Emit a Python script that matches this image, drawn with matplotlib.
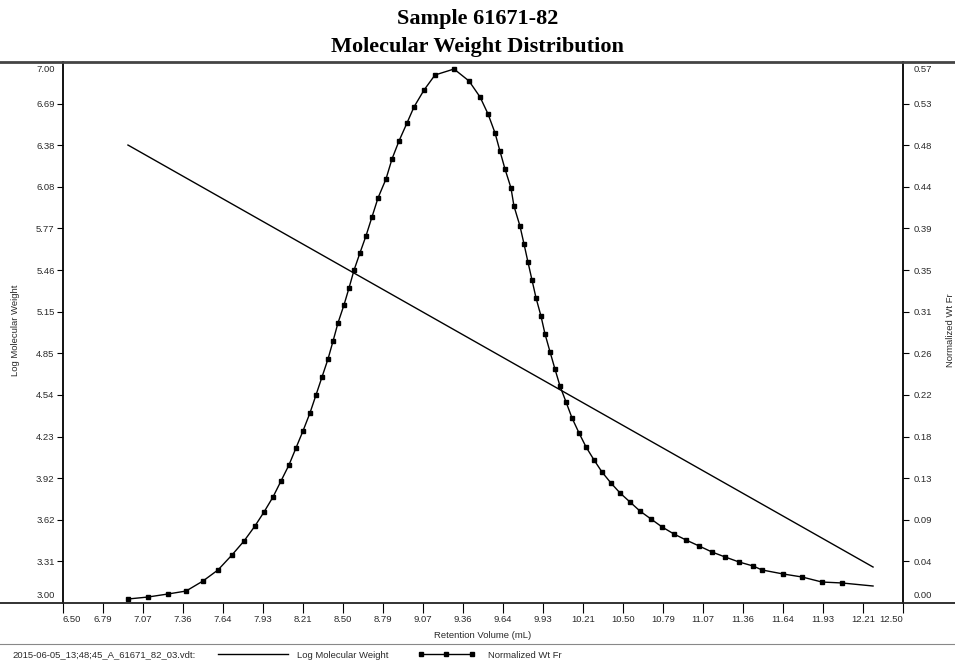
import matplotlib.pyplot as plt
import numpy as np
from matplotlib.lines import Line2D
from matplotlib.transforms import ScaledTranslation

plt.rcParams["font.family"] = ["Liberation Sans", "DejaVu Sans"]

# Log molecular weight calibration line
vol_mw = [6.964, 12.286]
log_mw = [6.386, 3.266]

# Normalized weight fraction curve
vol_wf = [6.964, 7.107, 7.250, 7.379, 7.500, 7.607, 7.707, 7.793, 7.871, 7.936,
          8.000, 8.057, 8.114, 8.164, 8.214, 8.264, 8.307, 8.350, 8.393, 8.429,
          8.464, 8.507, 8.543, 8.579, 8.621, 8.664, 8.707, 8.750, 8.807, 8.850,
          8.900, 8.957, 9.007, 9.079, 9.157, 9.293, 9.400, 9.479, 9.536, 9.586,
          9.621, 9.657, 9.700, 9.721, 9.764, 9.793, 9.821, 9.850, 9.879, 9.914,
          9.943, 9.979, 10.014, 10.050, 10.093, 10.136, 10.186, 10.236, 10.293, 10.350,
          10.414, 10.479, 10.550, 10.621, 10.700, 10.779, 10.864, 10.950, 11.043, 11.136,
          11.229, 11.329, 11.429, 11.493, 11.643, 11.779, 11.921, 12.064, 12.286]
wt_fr = [0.0042, 0.0063, 0.0095, 0.0126, 0.0232, 0.0348, 0.0506, 0.0653, 0.0811, 0.0959,
         0.1117, 0.1285, 0.1454, 0.1633, 0.1812, 0.2002, 0.2191, 0.2381, 0.2571, 0.2760,
         0.2950, 0.3140, 0.3319, 0.3508, 0.3688, 0.3867, 0.4067, 0.4267, 0.4467, 0.4678,
         0.4868, 0.5057, 0.5226, 0.5405, 0.5563, 0.5626, 0.5500, 0.5331, 0.5152, 0.4952,
         0.4762, 0.4573, 0.4372, 0.4183, 0.3972, 0.3782, 0.3593, 0.3403, 0.3213, 0.3024,
         0.2834, 0.2645, 0.2465, 0.2286, 0.2118, 0.1949, 0.1791, 0.1644, 0.1507, 0.1380,
         0.1264, 0.1159, 0.1064, 0.0969, 0.0885, 0.0801, 0.0727, 0.0664, 0.0601, 0.0537,
         0.0485, 0.0432, 0.0390, 0.0348, 0.0306, 0.0274, 0.0221, 0.0211, 0.0179]

x_labels = ["6.50", "6.79", "7.07", "7.36", "7.64", "7.93", "8.21", "8.50", "8.79", "9.07",
            "9.36", "9.64", "9.93", "10.21", "10.50", "10.79", "11.07", "11.36", "11.64",
            "11.93", "12.21", "12.50"]
left_labels = ["3.00", "3.31", "3.62", "3.92", "4.23", "4.54", "4.85", "5.15", "5.46",
               "5.77", "6.08", "6.38", "6.69", "7.00"]
right_labels = ["0.00", "0.04", "0.09", "0.13", "0.18", "0.22", "0.26", "0.31", "0.35",
                "0.39", "0.44", "0.48", "0.53", "0.57"]

FS = 6.8
TXT = "#2a2a2a"

fig = plt.figure(figsize=(9.55, 6.62), dpi=100)
ax = fig.add_axes([63 / 955, 59 / 662, 840 / 955, 541 / 662])
ax2 = ax.twinx()

mw_line, = ax.plot(vol_mw, log_mw, color="black", lw=1.0)
wf_line, = ax2.plot(vol_wf, wt_fr, color="black", lw=1.0, marker="s", ms=3.2,
                    markevery=slice(0, len(vol_wf) - 1))

ax.set_xlim(6.5, 12.5)
ax.set_ylim(3.0, 7.0)
ax2.set_ylim(0.0, 0.57)

ax.set_xticks(np.linspace(6.5, 12.5, len(x_labels)), x_labels)
ax.set_yticks(np.linspace(3.0, 7.0, len(left_labels)), left_labels)
ax2.set_yticks(np.linspace(0.0, 0.57, len(right_labels)), right_labels)

for a in (ax, ax2):
    for s in ("top", "bottom"):
        a.spines[s].set_visible(False)
ax.spines["right"].set_visible(False)
ax2.spines["left"].set_visible(False)
ax.spines["left"].set_linewidth(1.3)
ax2.spines["right"].set_linewidth(1.3)

ax.tick_params(axis="x", length=7.5, width=0.8, pad=1.5, labelsize=FS, labelcolor=TXT)
ax.tick_params(axis="y", length=4.5, width=0.8, pad=1.5, labelsize=FS, labelcolor=TXT)
ax2.tick_params(axis="y", length=4.5, width=0.8, pad=3, labelsize=FS, labelcolor=TXT)

# end labels sit inside the frame, with no tick mark
xl = ax.get_xticklabels()
xl[0].set_ha("left")
xl[-1].set_ha("right")
down = ScaledTranslation(0, -3 / 100, fig.dpi_scale_trans)
up = ScaledTranslation(0, 3 / 100, fig.dpi_scale_trans)
for labels in (ax.get_yticklabels(), ax2.get_yticklabels()):
    labels[0].set_va("bottom")
    labels[0].set_transform(labels[0].get_transform() + up)
    labels[-1].set_va("top")
    labels[-1].set_transform(labels[-1].get_transform() + down)
for t in (ax.yaxis.get_major_ticks()[0], ax.yaxis.get_major_ticks()[-1]):
    t.tick1line.set_visible(False)
for t in (ax2.yaxis.get_major_ticks()[0], ax2.yaxis.get_major_ticks()[-1]):
    t.tick2line.set_visible(False)

# frame lines running across the page
fig.add_artist(Line2D([0, 1], [1 - 62 / 662] * 2, color="#444", lw=2.0))
fig.add_artist(Line2D([0, 1], [59 / 662] * 2, color="#222", lw=1.3))
fig.add_artist(Line2D([0, 1], [1 - 644 / 662] * 2, color="#888", lw=0.8))

fig.text(0.5, 1 - 19 / 662, "Sample 61671-82", ha="center", va="center",
         family="Liberation Serif", weight="bold", fontsize=16)
fig.text(0.5, 1 - 47 / 662, "Molecular Weight Distribution", ha="center", va="center",
         family="Liberation Serif", weight="bold", fontsize=16)

fig.text(483 / 955, 1 - 636 / 662, "Retention Volume (mL)", ha="center", va="center",
         fontsize=FS, color=TXT)
fig.text(15 / 955, 1 - 330 / 662, "Log Molecular Weight", ha="center", va="center",
         rotation=90, fontsize=FS, color=TXT)
fig.text(950 / 955, 1 - 330 / 662, "Normalized Wt Fr", ha="center", va="center",
         rotation=90, fontsize=FS, color=TXT)

fig.text(12 / 955, 1 - 655 / 662, "2015-06-05_13;48;45_A_61671_82_03.vdt:", ha="left",
         va="center", fontsize=FS, color=TXT)
fig.legend([mw_line], ["Log Molecular Weight"], loc="center left",
           bbox_to_anchor=(218 / 955, 1 - 655 / 662), frameon=False, fontsize=FS,
           handlelength=7.4, handletextpad=1.0, borderaxespad=0, borderpad=0,
           labelcolor=TXT)
fig.legend([wf_line], ["Normalized Wt Fr"], loc="center left",
           bbox_to_anchor=(418 / 955, 1 - 655 / 662), frameon=False, fontsize=FS,
           handlelength=6.0, handletextpad=1.4, numpoints=3, borderaxespad=0,
           borderpad=0, labelcolor=TXT)

fig.savefig("out.png", dpi=100)
